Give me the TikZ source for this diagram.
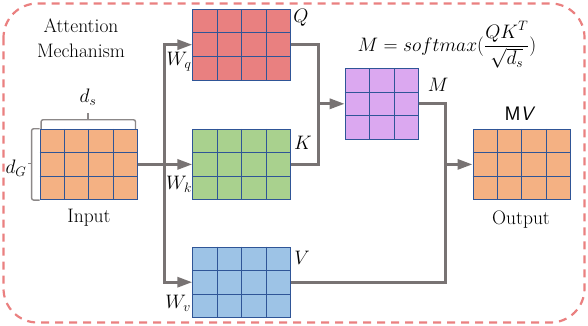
\RequirePackage{fix-cm}
\documentclass[tikz,border=0pt]{standalone}
\usetikzlibrary{arrows.meta,calc,positioning}
\definecolor{qred}{RGB}{233,128,128}
\definecolor{kgreen}{RGB}{169,209,142}
\definecolor{vblue}{RGB}{157,195,230}
\definecolor{iorange}{RGB}{244,177,131}
\definecolor{mpurple}{RGB}{219,168,240}
\definecolor{cellblue}{RGB}{47,85,151}
\definecolor{linkgray}{RGB}{120,115,115}
\definecolor{borderred}{RGB}{234,128,128}
\tikzset{
  mat/.style={draw=cellblue, line width=0.8pt, inner sep=0pt, minimum width=97.6pt, minimum height=70.5pt},
  sqmat/.style={mat, minimum width=73.2pt},
  cellline/.style={draw=cellblue, line width=0.8pt},
  link/.style={draw=linkgray, line width=3pt},
  flow/.style={link, -{Triangle[length=15pt,width=10pt]}},
  bracket/.style={draw=linkgray!85, line width=1.4pt, rounded corners=2pt},
  lbl/.style={font=\fontsize{19.5}{25}\selectfont},
}
% inner lines of a matrix node: name, columns, rows
\newcommand{\cells}[3]{%
  \pgfmathtruncatemacro\nc{#2-1}\pgfmathtruncatemacro\nr{#3-1}%
  \foreach \k in {1,...,\nc} {\draw[cellline] ($(#1.north west)!\k/#2!(#1.north east)$) -- ($(#1.south west)!\k/#2!(#1.south east)$);}
  \foreach \k in {1,...,\nr} {\draw[cellline] ($(#1.north west)!\k/#3!(#1.south west)$) -- ($(#1.north east)!\k/#3!(#1.south east)$);}
}
\begin{document}
\begin{tikzpicture}[x=1pt,y=-1pt,every node/.style={lbl}]
\useasboundingbox (0,0) rectangle (588,326);
\draw[borderred, line width=2.2pt, dash pattern=on 8pt off 6pt, rounded corners=34pt] (3.5,3.5) rectangle (584.5,322.5);

\node[align=center] (title) at (81,38) {Attention\\Mechanism};

\node[mat, fill=iorange] (inmat) at (88.8,164.4) {};
\node[mat, fill=qred] (qmat) at (241.5,44.7) {};
\node[mat, fill=kgreen] (kmat) at (241.5,164.4) {};
\node[mat, fill=vblue] (vmat) at (241.5,282.2) {};
\node[sqmat, fill=mpurple] (mmat) at (381.7,103.8) {};
\node[mat, fill=iorange] (outmat) at (521.7,164.4) {};
\cells{inmat}{4}{3}
\cells{qmat}{4}{3}
\cells{kmat}{4}{3}
\cells{vmat}{4}{3}
\cells{mmat}{3}{3}
\cells{outmat}{4}{3}

% brackets on the input
\draw[bracket] ($(inmat.north west)+(1.5,0)$) -- ++(0,-9) -| ($(inmat.north east)+(-2.5,0)$);
\draw[bracket] ($(inmat.north)+(-0.8,-9)$) -- ++(0,-7);
\draw[bracket] (inmat.north west) -- ++(-8,0) |- (inmat.south west);
\draw[bracket] ($(inmat.west)+(-8,-1)$) -- ++(-4,0);

\node (ds) at (88,97) {$d_s$};
\node (dg) at (16,168) {$d_G$};
\node (inlbl) at (89,218) {Input};
\node (outlbl) at (521,220) {Output};
\node (mvlbl) at (520,114) {\sffamily M\textit{V}};
\node (qlbl) at (301,18) {$Q$};
\node (klbl) at (303,143) {$K$};
\node (vlbl) at (302,258) {$V$};
\node (mlbl) at (438,85) {$M$};
\node (wq) at (179,62) {$W_q$};
\node (wk) at (179,184) {$W_k$};
\node (wv) at (178,303) {$W_v$};
\node (eq) at (447,45) {$\displaystyle M = softmax(\frac{QK^T}{\sqrt{d_s}})$};

% connectors
\coordinate (split) at (164.5,164.4);
\coordinate (qk) at (318.3,103.8);
\coordinate (mv) at (445.7,164.4);
\draw[flow] (inmat.east) -- (kmat.west);
\draw[flow] (split) |- (qmat.west);
\draw[flow] (split) |- (vmat.west);
\draw[link] (qmat.east) -| (qk) |- (kmat.east);
\draw[flow] (qk) -- (mmat.west);
\draw[link] (mmat.east) -| (mv) |- (vmat.east);
\draw[flow] (mv) -- (outmat.west);
\end{tikzpicture}
\end{document}
